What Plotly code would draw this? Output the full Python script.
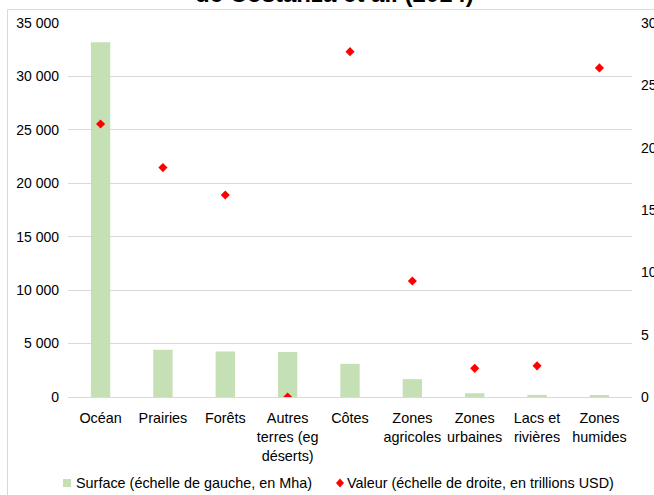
import plotly.graph_objects as go

# Ecosystem categories, surface (Mha, left scale) and value (trillion USD, right scale)
categories = [
    "Océan",
    "Prairies",
    "Forêts",
    "Autres<br>terres (eg<br>déserts)",
    "Côtes",
    "Zones<br>agricoles",
    "Zones<br>urbaines",
    "Lacs et<br>rivières",
    "Zones<br>humides",
]
surface_mha = [33200, 4418, 4261, 4200, 3102, 1672, 352, 200, 188]
valeur_tusd = [21.9, 18.4, 16.2, 0.0, 27.7, 9.3, 2.3, 2.5, 26.4]

left_ticks = [0, 5000, 10000, 15000, 20000, 25000, 30000, 35000]
left_tick_text = ["0", "5 000", "10 000", "15 000", "20 000", "25 000", "30 000", "35 000"]
right_ticks = [0, 5, 10, 15, 20, 25, 30]
right_tick_text = ["0", "5", "10", "15", "20", "25", "30"]

title_text = "de Costanza et al. (2014)"
legend_surface = "Surface (échelle de gauche, en Mha)"
legend_valeur = "Valeur (échelle de droite, en trillions USD)"

W, H = 654, 495
PL, PR, PT, PB = 68, 632, 23, 397  # plot area edges in pixels
FONT = "Liberation Sans, Arial, sans-serif"
GREEN = "#C5E0B4"
RED = "#FF0000"
GRID = "#D9D9D9"


def px(x):
    return (x - PL) / (PR - PL)


def py(y):
    return (PB - y) / (PB - PT)


fig = go.Figure()
fig.add_trace(go.Bar(
    x=categories, y=surface_mha, name=legend_surface,
    marker=dict(color=GREEN, line=dict(width=0)), yaxis="y",
))
fig.add_trace(go.Scatter(
    x=categories, y=valeur_tusd, name=legend_valeur, mode="markers",
    marker=dict(symbol="diamond", size=7, color=RED, line=dict(width=0)),
    yaxis="y2",
))

shapes = [
    # outer chart frame
    dict(type="rect", xref="paper", yref="paper",
         x0=px(7.5), x1=px(720), y0=py(9.5), y1=py(560),
         line=dict(color=GRID, width=1), fillcolor="rgba(0,0,0,0)", layer="below"),
    # legend keys
    dict(type="rect", xref="paper", yref="paper",
         x0=px(63), x1=px(71), y0=py(479), y1=py(487),
         line=dict(width=0), fillcolor=GREEN),
    dict(type="path", xref="paper", yref="paper",
         path=f"M {px(340)} {py(478.5)} L {px(344)} {py(483)} L {px(340)} {py(487.5)} L {px(336)} {py(483)} Z",
         line=dict(width=0), fillcolor=RED),
]

annotations = [
    dict(text=f"<b>{title_text}</b>", xref="paper", yref="paper",
         x=px(334), y=py(8.6), xanchor="center", yanchor="bottom",
         showarrow=False, font=dict(family=FONT, size=24, color="#000000")),
    dict(text=legend_surface, xref="paper", yref="paper",
         x=px(74), y=py(483), xanchor="left", yanchor="middle",
         showarrow=False, font=dict(family=FONT, size=14.4, color="#000000")),
    dict(text=legend_valeur, xref="paper", yref="paper",
         x=px(345), y=py(483), xanchor="left", yanchor="middle",
         showarrow=False, font=dict(family=FONT, size=14.4, color="#000000")),
]

fig.update_layout(
    width=W, height=H,
    margin=dict(l=PL, r=W - PR, t=PT, b=H - PB, pad=0, autoexpand=False),
    paper_bgcolor="white", plot_bgcolor="white",
    font=dict(family=FONT, size=14, color="#000000"),
    showlegend=False,
    bargap=0.69,
    xaxis=dict(
        type="category", showgrid=False, showline=False, zeroline=False,
        ticks="", ticklabelstandoff=11, tickfont=dict(size=14.4),
        automargin=False,
    ),
    yaxis=dict(
        range=[0, 35000], tickvals=left_ticks, ticktext=left_tick_text,
        showgrid=True, gridcolor=GRID, gridwidth=1,
        zeroline=True, zerolinecolor=GRID, zerolinewidth=1,
        showline=False, ticks="", ticklabelstandoff=8, automargin=False,
    ),
    yaxis2=dict(
        range=[0, 30], tickvals=right_ticks, ticktext=right_tick_text,
        overlaying="y", side="right", showgrid=False, zeroline=False,
        showline=False, ticks="", ticklabelstandoff=8, automargin=False,
    ),
    shapes=shapes,
    annotations=annotations,
)

fig.write_html("out.html")
